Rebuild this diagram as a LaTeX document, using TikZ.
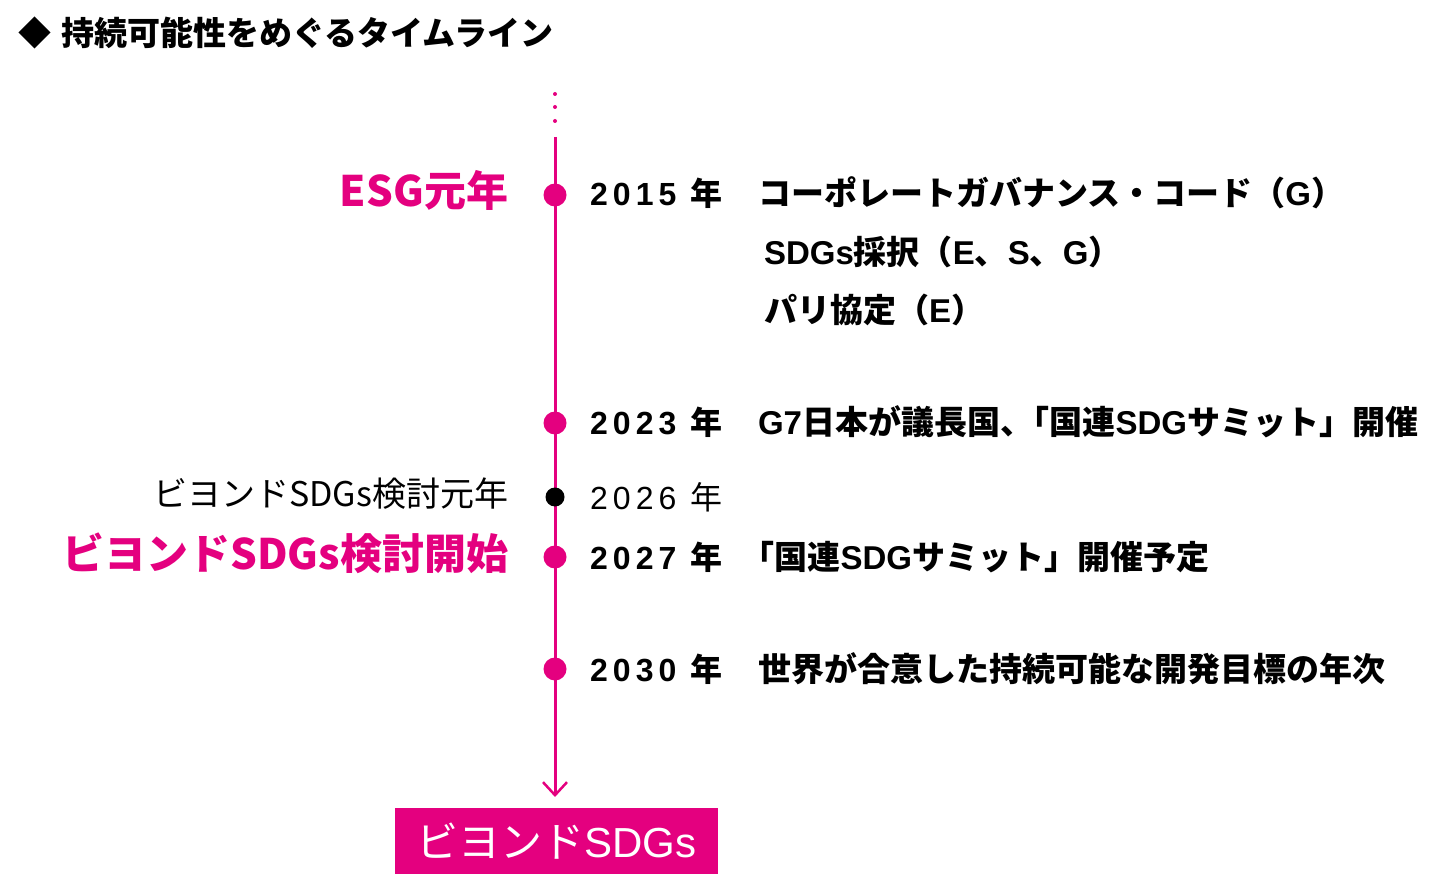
\documentclass[tikz,border=0pt]{standalone}
\usepackage{fontspec}
\setmainfont{Noto Sans CJK JP}
\newfontfamily\latf{Liberation Sans}
\newfontfamily\yrf{Liberation Sans}[LetterSpace=16]
\newcommand\hw[1]{{\addfontfeature{RawFeature=+halt}#1}}
\usetikzlibrary{arrows.meta}
\definecolor{mag}{HTML}{E4007F}
\begin{document}
\begin{tikzpicture}[x=1pt,y=-1pt,
  every node/.style={inner sep=0pt,outer sep=0pt},
  yearlbl/.style={anchor=west,font=\fontsize{32}{38}\selectfont\bfseries},
  desc/.style={anchor=west,font=\fontsize{33}{38}\selectfont\bfseries},
  bigleft/.style={anchor=east,text=mag,font=\fontsize{42}{48}\selectfont\bfseries},
  magdot/.style={circle,fill=mag,minimum size=23pt},
  smalldot/.style={circle,fill=mag,minimum size=4pt}
]
\useasboundingbox (0,0) rectangle (1440,890);
% title
\node[font=\fontsize{33}{38}\selectfont] (diam) at (35,33) {◆};
\node[anchor=west,font=\fontsize{33}{38}\selectfont\bfseries] (title) at (61,33) {持続可能性をめぐるタイムライン};
% top dots
\node[smalldot] (s1) at (555,94) {};
\node[smalldot] (s2) at (555,107) {};
\node[smalldot] (s3) at (555,121) {};
\coordinate (ltop) at (555,137);
\coordinate (lbot) at (555,797);
\draw[mag,line width=3pt,-{Straight Barb[length=13pt,width=24pt,line width=2.5pt]}] (ltop) -- (lbot);
% dots
\node[magdot] (d2015) at (555,195) {};
\node[magdot] (d2023) at (555,423) {};
\node[circle,fill=black,minimum size=19pt] (d2026) at (555,497) {};
\node[magdot] (d2027) at (555,557) {};
\node[magdot] (d2030) at (555,669) {};
% years
\node[yearlbl] (y2015) at (590,193) {{\yrf 2015}\hspace{14pt}年};
\node[yearlbl] (y2023) at (590,422) {{\yrf 2023}\hspace{14pt}年};
\node[anchor=west,font=\fontsize{32}{38}\selectfont] (y2026) at (590,497) {{\yrf 2026}\hspace{14pt}年};
\node[yearlbl] (y2027) at (590,557) {{\yrf 2027}\hspace{14pt}年};
\node[yearlbl] (y2030) at (590,669) {{\yrf 2030}\hspace{14pt}年};
% descriptions
\node[desc] (t1) at (758,193) {コーポレートガバナンス・コード（{\latf G}）};
\node[desc] (t2) at (764,252) {{\latf SDGs}採択（{\latf E}、{\latf S}、{\latf G}）};
\node[desc] (t3) at (764,310) {パリ協定（{\latf E}）};
\node[desc] (t4) at (758,422) {{\latf G7}日本が議長国\hw{、}「国連{\latf SDG}サミット」開催};
\node[desc] (t5) at (758,557) {\hw{「}国連{\latf SDG}サミット」開催予定};
\node[desc] (t6) at (758,669) {世界が合意した持続可能な開発目標の年次};
% left labels
\node[bigleft] (l1) at (508,190) {ESG元年};
\node[anchor=east,font=\fontsize{34}{38}\selectfont] (l2) at (508,494) {ビヨンドSDGs検討元年};
\node[bigleft] (l3) at (508,553) {ビヨンドSDGs検討開始};
% bottom box
\node[fill=mag,minimum width=323pt,minimum height=66pt,text=white,font=\fontsize{42}{46}\selectfont] (box) at (556.5,841) {ビヨンド{\latf SDGs}};
\end{tikzpicture}
\end{document}
